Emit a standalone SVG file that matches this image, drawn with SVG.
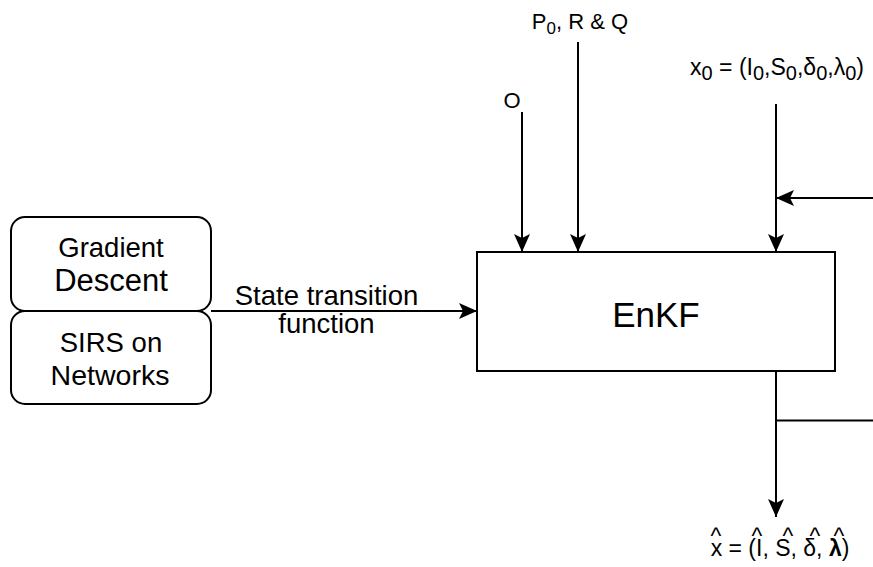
<svg xmlns="http://www.w3.org/2000/svg" width="873" height="567" viewBox="0 0 873 567">
<style>
text{font-family:"Liberation Sans",Arial,Helvetica,sans-serif;fill:#000}
.box{fill:#fff;stroke:#000;stroke-width:2}
.ln{fill:none;stroke:#000;stroke-width:2}
.arr{marker-end:url(#ah)}
.t27{font-size:27.5px;text-anchor:middle}
.t22{font-size:22px;text-anchor:middle}
.t23{font-size:23px;text-anchor:middle}
.sub{font-size:17px}
.sub2{font-size:20px}
</style>
<defs>
<marker id="ah" viewBox="0 0 18 16" refX="18" refY="8" markerWidth="18" markerHeight="16" markerUnits="userSpaceOnUse" orient="auto">
<path d="M0,0 L18,8 L0,16 L4,8 Z" fill="#000"/>
</marker>
</defs>
<g id="connectors">
<path class="ln arr" d="M211,311 L477,311"/>
<path class="ln arr" d="M522,112 L522,252"/>
<path class="ln arr" d="M578,42 L578,252"/>
<path class="ln arr" d="M776,104 L776,252"/>
<path class="ln arr" d="M873,198 L776,198"/>
<path class="ln arr" d="M776,371 L776,517"/>
<path class="ln" d="M776,420.5 L873,420.5"/>
<text class="t27" x="326.5" y="305">State transition</text>
<text class="t27" x="326.5" y="333">function</text>
</g>
<g id="gradient-descent">
<rect class="box" x="11" y="217" width="200" height="94" rx="14"/>
<text class="t27" x="111" y="257">Gradient</text>
<text x="111" y="291" style="font-size:31px;text-anchor:middle">Descent</text>
</g>
<g id="sirs">
<rect class="box" x="11" y="311" width="200" height="93" rx="14"/>
<text class="t27" x="111" y="352">SIRS on</text>
<text x="110" y="385" style="font-size:28.5px;text-anchor:middle">Networks</text>
</g>
<g id="enkf">
<rect class="box" x="477" y="252" width="358" height="119"/>
<text x="656" y="327" style="font-size:35px;text-anchor:middle">EnKF</text>
</g>
<g id="label-o">
<text class="t22" x="512" y="108">O</text>
</g>
<g id="label-prq">
<text class="t22" x="580" y="29">P<tspan class="sub" dy="5">0</tspan><tspan dy="-5">, R &amp; Q</tspan></text>
</g>
<g id="label-x0">
<text class="t23" x="777" y="75">x<tspan class="sub2" dy="5">0</tspan><tspan dy="-5"> = (I</tspan><tspan class="sub2" dy="5">0</tspan><tspan dy="-5">,S</tspan><tspan class="sub2" dy="5">0</tspan><tspan dy="-5">,δ</tspan><tspan class="sub2" dy="5">0</tspan><tspan dy="-5">,λ</tspan><tspan class="sub2" dy="5">0</tspan><tspan dy="-5">)</tspan></text>
</g>
<g id="label-xhat">
<text class="t23" y="544"><tspan x="716">^</tspan><tspan x="757">^</tspan><tspan x="788">^</tspan><tspan x="815">^</tspan><tspan x="839">^</tspan><tspan x="780" dy="12">x = (I, S, δ, </tspan><tspan font-weight="bold">λ</tspan><tspan>)</tspan></text>
</g>
</svg>
